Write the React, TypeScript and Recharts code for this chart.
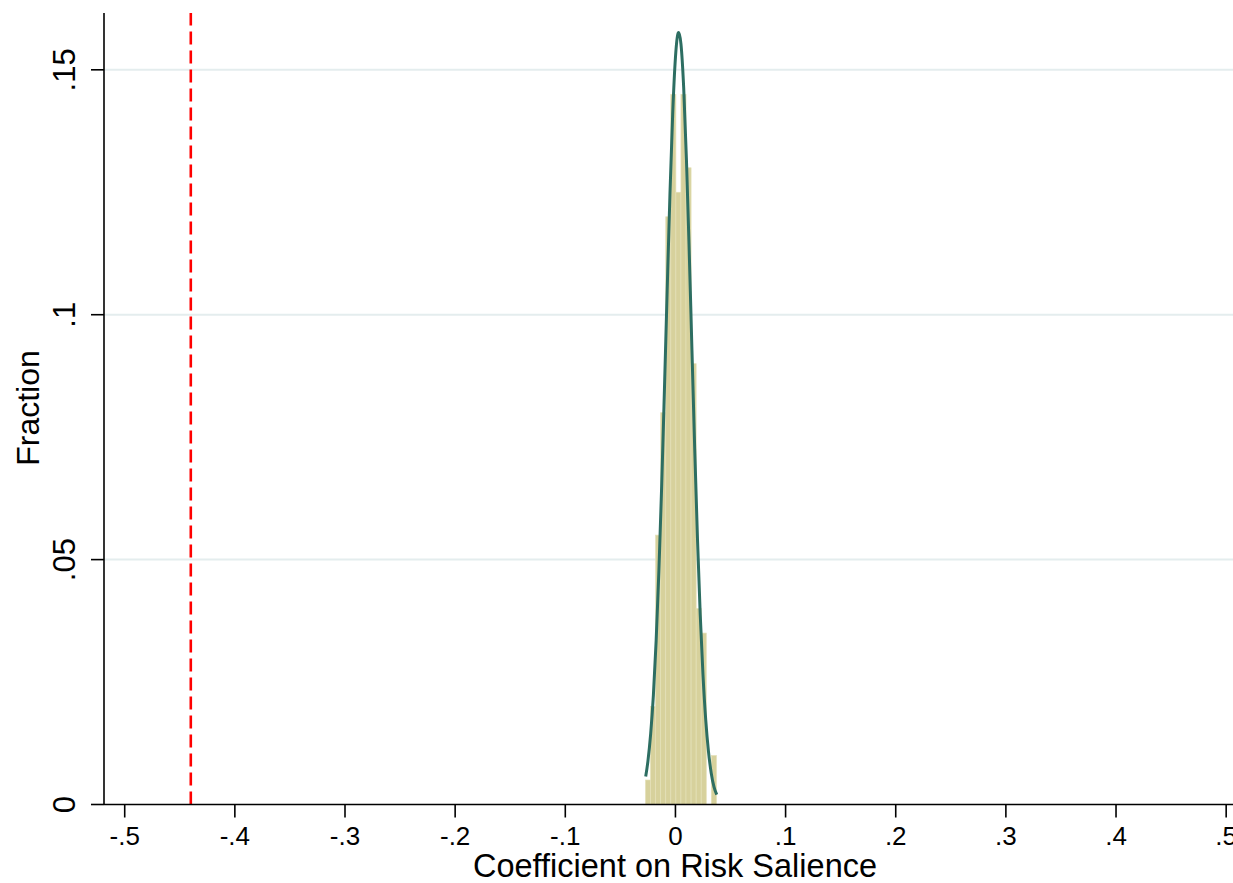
import React from 'react';
import { ComposedChart, Bar, Line, XAxis, YAxis, CartesianGrid, ReferenceLine, Label } from 'recharts';

// Histogram bins (centers) and fraction per bin
const binCenters = [-0.0249, -0.0203, -0.0157, -0.0111, -0.0065, -0.0019, 0.0027, 0.0073, 0.0119, 0.0165, 0.0211, 0.0257, 0.0303, 0.0349];
const binFractions = [0.005, 0.02, 0.055, 0.08, 0.12, 0.145, 0.125, 0.145, 0.13, 0.09, 0.04, 0.035, 0, 0.01];

// Normal density overlay
const curveX = [-0.027, -0.025, -0.0225, -0.02, -0.0175, -0.015, -0.0125, -0.01, -0.0075, -0.005, -0.0025, 0, 0.0025, 0.003, 0.005, 0.0075, 0.01, 0.0125, 0.015, 0.0175, 0.02, 0.0225, 0.025, 0.0275, 0.03, 0.0325, 0.035, 0.0375];
const curveY = [0.0057, 0.0088, 0.0144, 0.0224, 0.0335, 0.0478, 0.065, 0.0846, 0.105, 0.1245, 0.141, 0.1525, 0.1575, 0.1576, 0.1553, 0.1463, 0.1316, 0.113, 0.0927, 0.0726, 0.0543, 0.0388, 0.0265, 0.0173, 0.0108, 0.0064, 0.0036, 0.002];

const xTicks = [-0.5, -0.4, -0.3, -0.2, -0.1, 0, 0.1, 0.2, 0.3, 0.4, 0.5];
const yTicks = [0, 0.05, 0.1, 0.15];
const gridValues = [0.05, 0.1, 0.15];
const observedCoef = -0.44;
const Y_MIN = 0;
const Y_MAX = 0.1616;

const xTitle = 'Coefficient on Risk Salience';
const yTitle = 'Fraction';

const histData = binCenters.map((x, i) => ({ x, frac: binFractions[i] }));
const curveData = curveX.map((x, i) => ({ x, dens: curveY[i] }));

const FONT = '"Liberation Sans", Arial, Helvetica, sans-serif';
const BIN_PX = 5.07;

const fmt = (v: number) => {
  if (v === 0) return '0';
  const s = Math.abs(v).toString().replace(/^0/, '');
  return (v < 0 ? '-' : '') + s;
};

const XTick = (props: any) => {
  const { x, payload } = props;
  return (
    <text x={x} y={845} textAnchor="middle" fontSize={26} fontFamily={FONT} fill="#000">
      {fmt(payload.value)}
    </text>
  );
};

const YTick = (props: any) => {
  const { y, payload } = props;
  const bx = 75;
  return (
    <text x={bx} y={y} transform={`rotate(-90 ${bx} ${y})`} textAnchor="middle" fontSize={31} fontFamily={FONT} fill="#000">
      {fmt(payload.value)}
    </text>
  );
};

const BinShape = (props: any) => {
  const { x, y, width, height } = props;
  if (!height || height <= 0) return null;
  const cx = x + width / 2;
  return <rect x={cx - BIN_PX / 2} y={y} width={BIN_PX} height={height} fill="#D7D19C" stroke="#E4E0B8" strokeWidth={0.7} />;
};

// Grid rows placed through the y scale (or, failing that, the plot offset and the y domain)
const gridRows = (p: any) => {
  const sc = p && p.yAxis && p.yAxis.scale;
  if (typeof sc === 'function') return gridValues.map((v) => sc(v));
  if (sc && typeof sc.map === 'function') return gridValues.map((v) => sc.map(v));
  const off = (p && p.offset) || {};
  const top = off.top ?? 13;
  const h = off.height ?? 791.5;
  return gridValues.map((v) => top + h * (1 - (v - Y_MIN) / (Y_MAX - Y_MIN)));
};

export default function App() {
  return (
    <div style={{ position: 'absolute', left: 0, top: 0, width: 1233, height: 883, background: '#fff' }}>
      <ComposedChart width={1233} height={883} data={histData} margin={{ top: 13, right: 0, bottom: 0, left: 0 }}>
        <CartesianGrid vertical={false} stroke="#E4EDEE" strokeWidth={2} horizontalCoordinatesGenerator={gridRows} />
        <XAxis
          dataKey="x"
          type="number"
          domain={[-0.5188, 0.5062]}
          allowDataOverflow
          ticks={xTicks}
          interval={0}
          height={78.5}
          tickSize={13}
          tick={<XTick />}
          axisLine={{ stroke: '#000', strokeWidth: 1.6 }}
          tickLine={{ stroke: '#000', strokeWidth: 1.6 }}
        >
          <Label
            content={() => (
              <text x={675} y={877} textAnchor="middle" fontSize={32.5} fontFamily={FONT} fill="#000">
                {xTitle}
              </text>
            )}
          />
        </XAxis>
        <YAxis
          type="number"
          domain={[Y_MIN, Y_MAX]}
          allowDataOverflow
          ticks={yTicks}
          interval={0}
          width={104}
          tickSize={13}
          tick={<YTick />}
          axisLine={{ stroke: '#000', strokeWidth: 1.6 }}
          tickLine={{ stroke: '#000', strokeWidth: 1.6 }}
        >
          <Label
            content={() => (
              <text x={39} y={408} transform="rotate(-90 39 408)" textAnchor="middle" fontSize={32} fontFamily={FONT} fill="#000">
                {yTitle}
              </text>
            )}
          />
        </YAxis>
        <Bar dataKey="frac" shape={<BinShape />} isAnimationActive={false} />
        <Line
          data={curveData}
          dataKey="dens"
          type="monotone"
          stroke="#2D6E62"
          strokeWidth={3}
          dot={false}
          activeDot={false}
          isAnimationActive={false}
        />
        <ReferenceLine x={observedCoef} stroke="#FF0000" strokeWidth={2.6} strokeDasharray="13 6" />
      </ComposedChart>
    </div>
  );
}
